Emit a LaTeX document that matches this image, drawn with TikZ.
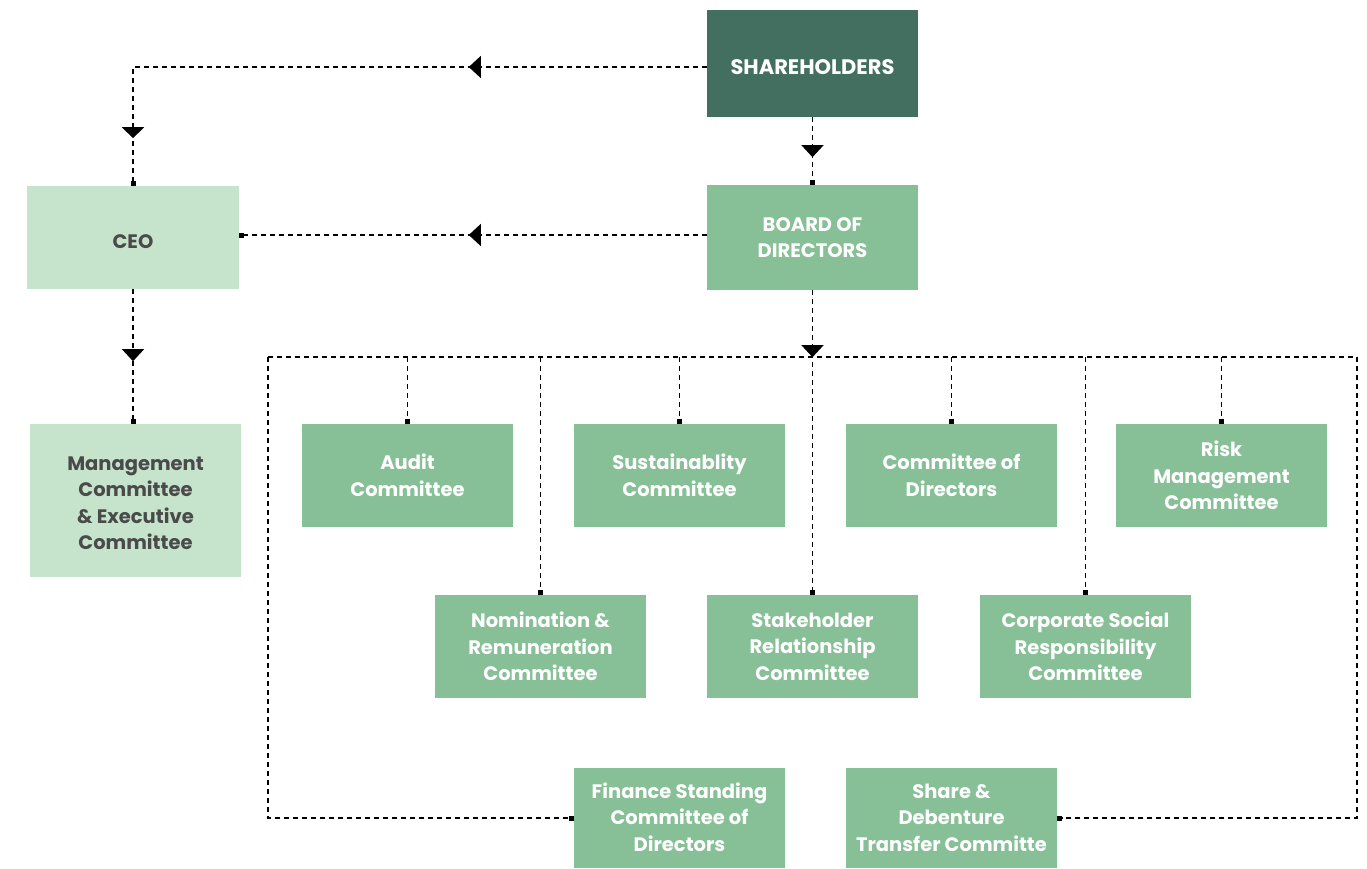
\documentclass[tikz,border=0pt]{standalone}
\usepackage{fontspec}
\setmainfont{Poppins}
\usetikzlibrary{arrows.meta,decorations.markings}
\definecolor{dk}{HTML}{436F61}
\definecolor{md}{HTML}{87BF96}
\definecolor{lt}{HTML}{C5E4CB}
\definecolor{gtxt}{HTML}{4A4A4A}
\newcommand{\lowtext}[2]{\raisebox{-#1}[\height][\depth]{\begin{tabular}{@{}c@{}}#2\end{tabular}}}
\begin{document}
\begin{tikzpicture}[x=1pt,y=-1pt,
  box/.style={fill=md,text=white,font=\bfseries\fontsize{19.5}{26.5}\selectfont,align=center,
    minimum width=211pt,minimum height=103pt,inner sep=0pt},
  dkbox/.style={box,fill=dk,font=\bfseries\fontsize{21}{26.5}\selectfont},
  ltbox/.style={box,fill=lt,text=gtxt},
  conn/.style={draw=black,line width=1.1pt,dash pattern=on 5pt off 4pt},
  dot/.style={-{Square[length=5pt,width=5pt]}},
  mk/.style={postaction={decorate,-},decoration={markings,mark=at position #1 with {\arrow{Triangle[length=12pt,width=22pt]}}}},
]
\useasboundingbox (0,0) rectangle (1367,869);
\node[dkbox,minimum height=107pt] (sh) at (812.5,63.5) {\raisebox{-3.5pt}[\height][\depth]{SHAREHOLDERS}};
\node[box,minimum height=105pt] (bd) at (812.5,237.5) {\lowtext{1.5pt}{BOARD OF\\DIRECTORS}};
\node[ltbox,minimum width=212pt] (ceo) at (133,237.5) {\raisebox{-4pt}[\height][\depth]{CEO}};
\node[ltbox,minimum height=153pt] (mg) at (135.5,500.5) {\lowtext{4pt}{Management\\Committee\\\& Executive\\Committee}};
\node[box] (audit) at (407.5,475.5) {\lowtext{2pt}{Audit\\Committee}};
\node[box] (sus) at (679.5,475.5) {\lowtext{2pt}{Sustainablity\\Committee}};
\node[box] (cod) at (951.5,475.5) {\lowtext{2pt}{Committee of\\Directors}};
\node[box] (risk) at (1221.5,475.5) {Risk\\Management\\Committee};
\node[box] (nom) at (540.5,646.5) {Nomination \&\\Remuneration\\Committee};
\node[box] (stk) at (812.5,646.5) {Stakeholder\\Relationship\\Committee};
\node[box] (csr) at (1085.5,646.5) {Corporate Social\\Responsibility\\Committee};
\node[box,minimum height=100pt] (fin) at (679.5,818) {\lowtext{1.5pt}{Finance Standing\\Committee of\\Directors}};
\node[box,minimum height=100pt] (shr) at (951.5,818) {\lowtext{1.5pt}{Share \&\\Debenture\\Transfer Committe}};

\coordinate (busL) at (268,357);
\coordinate (busR) at (1357,357);

\draw[conn,dot,postaction={decorate,-},decoration={markings,
  mark=at position 238pt with {\arrow{Triangle[length=12pt,width=22pt]}},
  mark=at position 645pt with {\arrow{Triangle[length=11pt,width=22pt]}}}]
  ([yshift=-3.5pt]sh.west) -| (ceo.north);
\draw[conn,dot,mk=40pt] (sh.south) -- (bd.north);
\draw[conn,dot,mk=238pt] ([yshift=2.5pt]bd.west) -- ([yshift=2.5pt]ceo.east);
\draw[conn,dot,mk=72pt] (ceo.south) -- (ceo.south |- mg.north);
\draw[conn,dot,mk=67pt] (bd.south) -- (stk.north);
\draw[conn] (busL) -- (busR);
\draw[conn,dot] (busL) |- (fin.west);
\draw[conn,dot] (busR) |- (shr.east);
\foreach \n in {audit,sus,cod,risk,nom,csr}{
  \draw[conn,dot] (\n.north |- busL) -- (\n.north);
}
\end{tikzpicture}
\end{document}
